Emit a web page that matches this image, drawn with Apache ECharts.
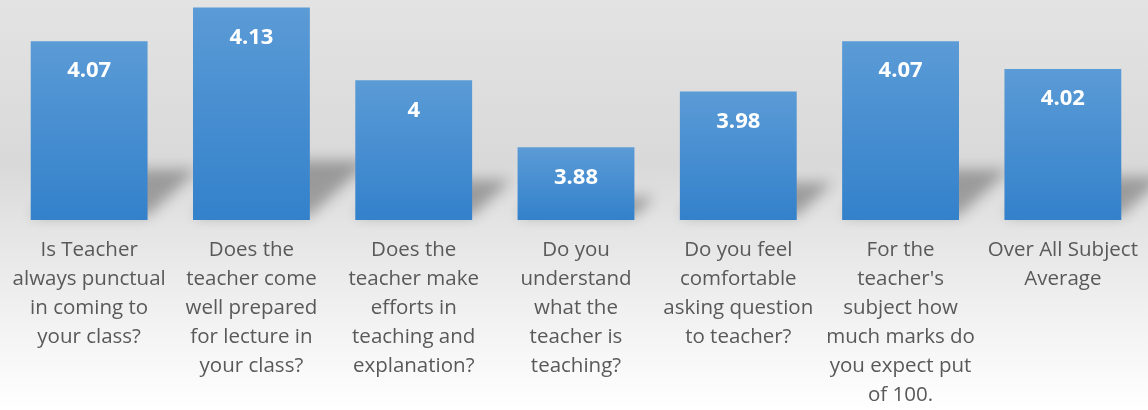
<!DOCTYPE html>
<html><head><meta charset="utf-8">
<script src="https://cdn.jsdelivr.net/npm/echarts@6/dist/echarts.min.js"></script>
<style>html,body{margin:0;padding:0;}#c{width:1148px;height:410px;}</style>
</head><body><div id="c"></div>
<script>
const categories = [
  "Is Teacher\nalways punctual\nin coming to\nyour class?",
  "Does the\nteacher come\nwell prepared\nfor lecture in\nyour class?",
  "Does the\nteacher make\nefforts in\nteaching and\nexplanation?",
  "Do you\nunderstand\nwhat the\nteacher is\nteaching?",
  "Do you feel\ncomfortable\nasking question\nto teacher?",
  "For the\nteacher's\nsubject how\nmuch marks do\nyou expect put\nof 100.",
  "Over All Subject\nAverage"
];
const values = [4.07, 4.13, 4, 3.88, 3.98, 4.07, 4.02];
const yMin = 3.75, yMax = 4.14;

const chart = echarts.init(document.getElementById('c'));
const barFrac = 0.72;
const OFF = 3000;
chart.setOption({
  animation: false,
  backgroundColor: {type:'linear',x:0,y:0,x2:0,y2:1,colorStops:[
    {offset:0,color:'#e3e3e3'},{offset:0.4,color:'#d9d9d9'},{offset:0.55,color:'#e4e4e4'},{offset:1,color:'#ffffff'}]},
  grid: {left: 8, right: 4, top: 2, bottom: 190, containLabel: false},
  xAxis: {
    type: 'category', data: categories,
    axisLine: {show:false}, axisTick: {show:false},
    axisLabel: {interval:0, margin:16, color:'#595959', fontSize:20.5, lineHeight:29, fontFamily:'Open Sans'}
  },
  yAxis: {type:'value', min:yMin, max:yMax, show:false, splitLine:{show:false}},
  series: [
    {
      type:'custom', z:1, silent:true, clip:false,
      data: values.map((v,i)=>[i,v]),
      encode:{x:0,y:1},
      renderItem: function(params, api){
        const idx = api.value(0);
        const top = api.coord([idx, api.value(1)]);
        const bot = api.coord([idx, yMin]);
        const w = api.size([1,0])[0]*barFrac;
        const h = bot[1]-top[1];
        const sh = h*0.26, dx = h*0.28;
        const xL = bot[0]-w/2 - OFF, xR = bot[0]+w/2 - OFF, y0 = bot[1]-4;
        return {
          type:'polygon',
          shape:{points:[[xL,y0],[xR,y0],[xR+dx,y0-sh],[xL+dx,y0-sh]]},
          style:{
            fill:'#000',
            shadowBlur:14, shadowColor:'rgba(0,0,0,0.3)', shadowOffsetX: OFF, shadowOffsetY: 0
          }
        };
      }
    },
    {
      type:'bar', z:3, data: values, barWidth: (barFrac*100)+'%',
      itemStyle:{color:{type:'linear',x:0,y:0,x2:0,y2:1,colorStops:[{offset:0,color:'#5b9bd6'},{offset:1,color:'#3381cb'}]}},
      label:{show:true, position:'insideTop', distance:19, color:'#ffffff', fontWeight:'bold', fontSize:22, fontFamily:'Open Sans'}
    }
  ]
});
</script></body></html>
